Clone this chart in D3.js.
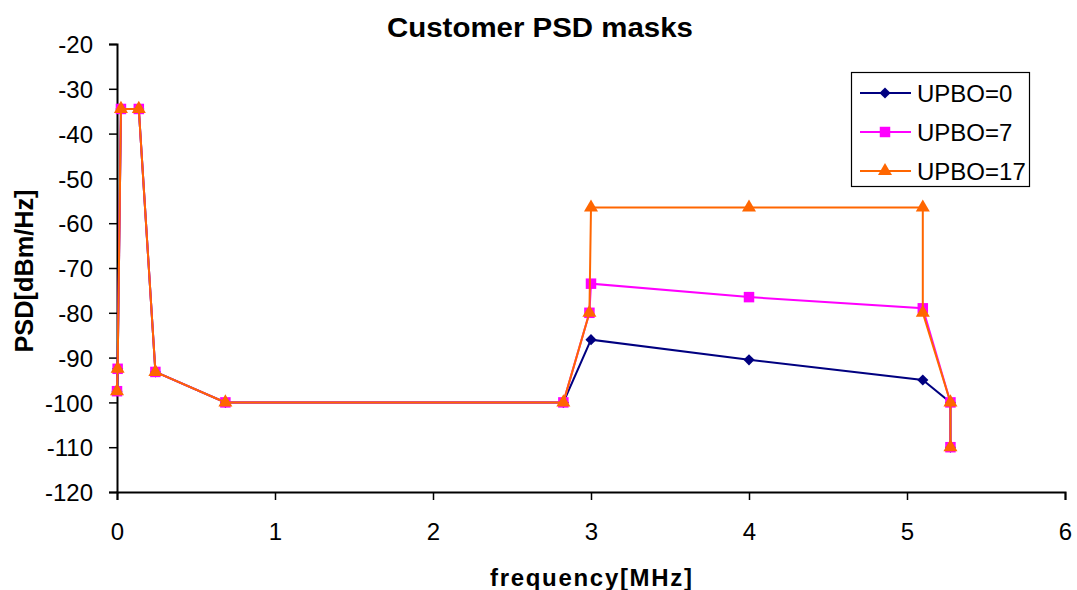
<!DOCTYPE html>
<html><head><meta charset="utf-8">
<script src="https://cdn.jsdelivr.net/npm/d3@7"></script>
<style>body{margin:0;background:#fff;}svg{display:block;}</style>
</head><body>
<svg id="c" width="1077" height="590"></svg>
<script>
const seriesNames = ["UPBO=0", "UPBO=7", "UPBO=17"];
const seriesColors = ["#000080", "#FF00FF", "#FF6600"];
const freq0 = [0, 0.004, 0.025, 0.138, 0.243, 0.686, 2.825, 3.0, 4.0, 5.1, 5.275, 5.275];
const psd0  = [-97.5, -92.5, -34.5, -34.5, -93.2, -100, -100, -86, -90.5, -95, -100, -110];
const freq7 = [0, 0.004, 0.025, 0.138, 0.243, 0.686, 2.825, 2.99, 3.0, 4.0, 5.1, 5.275, 5.275];
const psd7  = [-97.5, -92.5, -34.5, -34.5, -93.2, -100, -100, -80, -73.5, -76.5, -79, -100, -110];
const freq17 = [0, 0.004, 0.025, 0.138, 0.243, 0.686, 2.825, 2.99, 3.0, 4.0, 5.1, 5.1, 5.275, 5.275];
const psd17  = [-97.5, -92.5, -34.5, -34.5, -93.2, -100, -100, -80, -56.5, -56.5, -56.5, -80, -100, -110];
const xTicks = [0, 1, 2, 3, 4, 5, 6];
const yTicks = [-20, -30, -40, -50, -60, -70, -80, -90, -100, -110, -120];

const svg = d3.select("#c");
const x = d3.scaleLinear().domain([0, 6]).range([117, 1065]);
const y = d3.scaleLinear().domain([-120, -20]).range([492, 44]);
const font = "Arial, 'Liberation Sans', sans-serif";

// axes
const gx = svg.append("g").attr("transform", "translate(0,492)")
  .call(d3.axisBottom(x).tickValues(xTicks).tickFormat(d3.format("d")).tickSize(8).tickPadding(23));
const gy = svg.append("g").attr("transform", "translate(117,0)")
  .call(d3.axisLeft(y).tickValues(yTicks).tickFormat(d => String(d)).tickSize(8).tickPadding(16));
[gx, gy].forEach(g => {
  g.select(".domain").attr("stroke", "#000").attr("stroke-width", 2);
  g.selectAll(".tick line").attr("stroke", "#000").attr("stroke-width", 1.5);
  g.selectAll(".tick text").attr("font-family", font).attr("font-size", 24).attr("fill", "#000");
});
gy.selectAll(".tick text").attr("dy", "0.36em");

// series
const diamond = {draw(ctx, size) { const r = Math.sqrt(size) / Math.SQRT2; ctx.moveTo(0, -r); ctx.lineTo(r, 0); ctx.lineTo(0, r); ctx.lineTo(-r, 0); ctx.closePath(); }};
const data = [
  {f: freq0, p: psd0, shape: diamond, size: 62},
  {f: freq7, p: psd7, shape: d3.symbolSquare, size: 110},
  {f: freq17, p: psd17, shape: d3.symbolTriangle, size: 85}
];
const line = d3.line().x(d => x(d[0])).y(d => y(d[1]));
data.forEach((s, i) => {
  const pts = s.f.map((f, j) => [f, s.p[j]]);
  svg.append("path").datum(pts).attr("d", line).attr("fill", "none")
    .attr("stroke", seriesColors[i]).attr("stroke-width", 2);
  svg.append("g").selectAll("path").data(pts).join("path")
    .attr("transform", d => `translate(${x(d[0])},${y(d[1])})`)
    .attr("d", d3.symbol().type(s.shape).size(s.size))
    .attr("fill", seriesColors[i]);
});

// title & labels
svg.append("text").attr("x", 540).attr("y", 37).attr("text-anchor", "middle")
  .attr("font-family", font).attr("font-weight", "bold").attr("font-size", 27)
  .attr("textLength", 306).attr("lengthAdjust", "spacingAndGlyphs").text("Customer PSD masks");
svg.append("text").attr("x", 591).attr("y", 586).attr("text-anchor", "middle")
  .attr("font-family", font).attr("font-weight", "bold").attr("font-size", 24)
  .attr("textLength", 202).attr("lengthAdjust", "spacing").text("frequency[MHz]");
svg.append("text").attr("transform", "translate(33,271) rotate(-90)").attr("text-anchor", "middle")
  .attr("font-family", font).attr("font-weight", "bold").attr("font-size", 25)
  .attr("textLength", 163).attr("lengthAdjust", "spacingAndGlyphs").text("PSD[dBm/Hz]");

// legend
const lg = svg.append("g");
lg.append("rect").attr("x", 851.5).attr("y", 72.5).attr("width", 178).attr("height", 114)
  .attr("fill", "#fff").attr("stroke", "#000").attr("stroke-width", 1.2);
seriesNames.forEach((n, i) => {
  const yy = 93 + i * 39;
  lg.append("line").attr("x1", 860).attr("x2", 911).attr("y1", yy).attr("y2", yy)
    .attr("stroke", seriesColors[i]).attr("stroke-width", 2);
  lg.append("path").attr("transform", `translate(885,${yy})`)
    .attr("d", d3.symbol().type(data[i].shape).size(data[i].size)).attr("fill", seriesColors[i]);
  lg.append("text").attr("x", 917).attr("y", yy + 8.5).attr("font-family", font).attr("font-size", 24).text(n);
});
</script>
</body></html>
